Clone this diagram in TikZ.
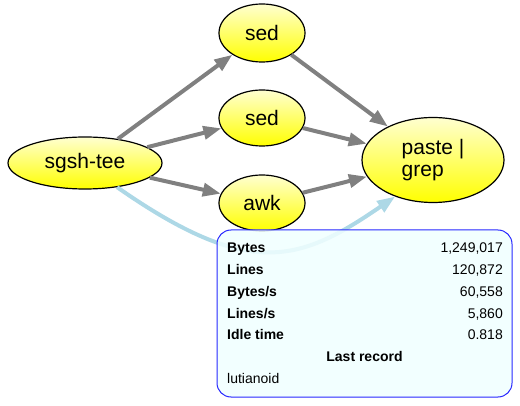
\documentclass[tikz,border=0pt]{standalone}
\usepackage{fontspec}
\setmainfont{Liberation Sans}
\usetikzlibrary{arrows.meta,shapes.geometric}
\definecolor{edgegray}{HTML}{808080}
\definecolor{lblue}{HTML}{ADD8E6}
\definecolor{boxblue}{HTML}{2828FF}
\definecolor{boxfill}{HTML}{F0FFFF}
\definecolor{paleyellow}{HTML}{FFFFD0}
\tikzset{
  proc/.style={ellipse, draw=black, line width=1.2pt, top color=paleyellow,
    bottom color=yellow, inner sep=0pt, font=\fontsize{21}{22}\selectfont},
  flow/.style={draw=edgegray, line width=4pt, -{Triangle[length=18pt,width=13pt]}},
  tap/.style={draw=lblue, line width=4pt, -{Triangle[length=18pt,width=13pt]}},
  statbox/.style={draw=boxblue, line width=1pt, fill=boxfill, fill opacity=0.85,
    rounded corners=14pt, minimum width=295pt, minimum height=167pt, inner sep=0pt},
  lab/.style={anchor=base west, inner sep=0pt, font=\fontsize{14}{16}\selectfont\bfseries},
  val/.style={anchor=base east, inner sep=0pt, font=\fontsize{14}{16}\selectfont},
}
\begin{document}
\begin{tikzpicture}[x=1pt,y=-1pt]
\useasboundingbox (0,0) rectangle (520,406);
\node[proc, minimum width=154pt, minimum height=52pt] (tee) at (85,163) {sgsh-tee};
\node[proc, minimum width=86pt, minimum height=58pt] (sed1) at (262,33) {sed};
\node[proc, minimum width=86pt, minimum height=56pt] (sed2) at (262,118) {sed};
\node[proc, minimum width=86pt, minimum height=56pt] (awk) at (262,203) {awk};
\node[proc, minimum width=142pt, minimum height=85pt, align=left] (paste) at (433,160) {paste |\\grep};

\draw[flow] (tee) -- (sed1);
\draw[flow] (tee) -- (sed2);
\draw[flow] (tee) -- (awk);
\draw[flow] (sed1) -- (paste);
\draw[flow] (sed2) -- (paste);
\draw[flow] (awk) -- (paste);
\draw[tap] (tee.-37.7) .. controls (250,280) and (300,262) .. (paste.-136.6);

\node[statbox] (stats) at (364.5,313.5) {};
\node[lab] (l1) at (227,253) {Bytes};
\node[val] (v1) at (503,253) {1,249,017};
\node[lab] (l2) at (227,275) {Lines};
\node[val] (v2) at (503,275) {120,872};
\node[lab] (l3) at (227,297) {Bytes/s};
\node[val] (v3) at (503,297) {60,558};
\node[lab] (l4) at (227,319) {Lines/s};
\node[val] (v4) at (503,319) {5,860};
\node[lab] (l5) at (227,340) {Idle time};
\node[val] (v5) at (503,340) {0.818};
\node[lab, anchor=base] (l6) at (364.5,362) {Last record};
\node[val, anchor=base west] (v6) at (227,384) {lutianoid};
\end{tikzpicture}
\end{document}
